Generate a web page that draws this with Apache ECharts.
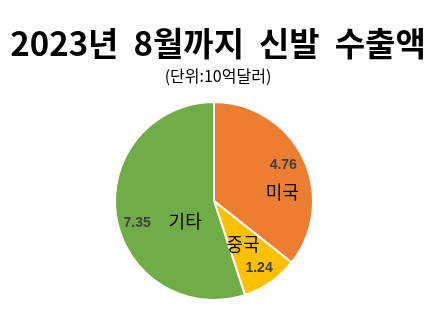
<!DOCTYPE html>
<html><head><meta charset="utf-8">
<script src="https://cdn.jsdelivr.net/npm/echarts@6/dist/echarts.min.js"></script>
<style>html,body{margin:0;padding:0;background:#fff}#c{width:436px;height:321px}</style>
</head><body><div id="c"></div>
<script>
const titleText = '2023년  8월까지  신발  수출액';
const subtitleText = '(단위:10억달러)';
const categories = ['미국', '중국', '기타'];
const values = [4.76, 1.24, 7.35];
const colors = ['#ED7D31', '#FFC000', '#70AD47'];
// label nudges (dx, dy) relative to default inside position
const valueShift = [[22, -13], [15, 24], [-25, 14]];
const nameShift = [[21, 14], [-1, 0], [23, 12]];

const chart = echarts.init(document.getElementById('c'));
const radius = 99;
const baseData = categories.map((c, i) => ({ name: c, value: values[i], itemStyle: { color: colors[i] } }));
chart.setOption({
  animation: false,
  title: [{
    text: titleText, left: 'center', top: 22,
    textStyle: { fontFamily: 'Noto Sans CJK KR', fontSize: 33, fontWeight: 'bold', color: '#000' }
  }, {
    text: subtitleText, left: 'center', top: 63,
    textStyle: { fontFamily: 'Noto Sans CJK KR', fontSize: 16, fontWeight: 'normal', color: '#000' }
  }],
  series: [{
    type: 'pie', center: [214, 201], radius: [0, radius], startAngle: 90, clockwise: true,
    silent: true,
    itemStyle: { borderColor: '#fff', borderWidth: 2 },
    label: { show: true, position: 'inside', formatter: p => p.value.toFixed(2),
      fontFamily: 'Liberation Sans', fontWeight: 'bold', fontSize: 14, color: '#404040' },
    labelLayout: p => ({ dx: valueShift[p.dataIndex][0], dy: valueShift[p.dataIndex][1] }),
    labelLine: { show: false },
    data: baseData
  }, {
    type: 'pie', center: [214, 201], radius: [0, radius], startAngle: 90, clockwise: true,
    silent: true,
    itemStyle: { color: 'rgba(0,0,0,0)', borderWidth: 0 },
    label: { show: true, position: 'inside', formatter: '{b}',
      fontFamily: 'Noto Sans CJK KR', fontSize: 18, color: '#000' },
    labelLayout: p => ({ dx: nameShift[p.dataIndex][0], dy: nameShift[p.dataIndex][1] }),
    labelLine: { show: false },
    data: categories.map((c, i) => ({ name: c, value: values[i] }))
  }]
});
</script></body></html>
